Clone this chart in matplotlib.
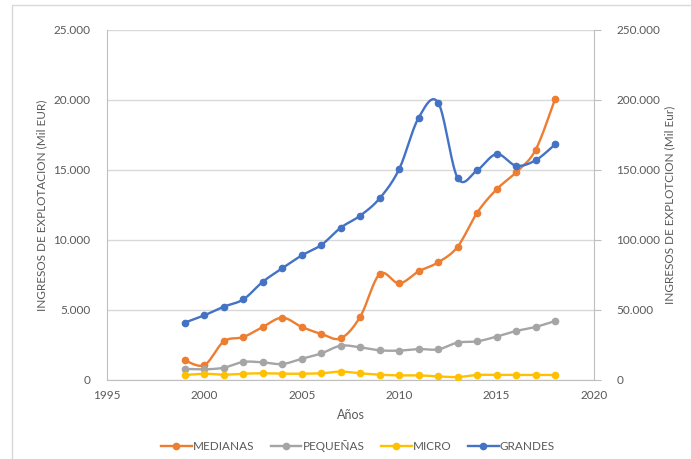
import matplotlib as mpl
mpl.use('Agg')

import numpy as np
import matplotlib.pyplot as plt
from matplotlib.lines import Line2D
from matplotlib.patches import Rectangle

years = list(range(1999, 2019))
medianas = [1400, 1070, 2760, 3070, 3790, 4450, 3790, 3290, 2980, 4520,
            7570, 6900, 7760, 8400, 9520, 11950, 13620, 14830, 16430, 20070]
pequenas = [790, 760, 880, 1290, 1260, 1140, 1520, 1900, 2450, 2330,
            2120, 2100, 2210, 2190, 2670, 2760, 3100, 3500, 3790, 4210]
micro = [360, 450, 380, 450, 480, 450, 450, 480, 600, 480,
         380, 330, 330, 260, 210, 360, 360, 360, 360, 360]
# GRANDES va en el eje secundario
grandes = [41000, 46200, 52400, 57600, 70200, 79800, 89000, 96400, 108800, 117400,
           129800, 150700, 187400, 198100, 144300, 149800, 161400, 153100, 156900, 168300]

left_ticks = [0, 5000, 10000, 15000, 20000, 25000]
right_ticks = [0, 50000, 100000, 150000, 200000, 250000]
x_ticks = [1995, 2000, 2005, 2010, 2015, 2020]


def smooth(x, y, n=20):
    # curva suavizada tipo Excel (Catmull-Rom / Bezier)
    x = np.asarray(x, float)
    y = np.asarray(y, float)
    xs, ys = [], []
    for i in range(len(x) - 1):
        p0 = np.array([x[max(i - 1, 0)], y[max(i - 1, 0)]])
        p1 = np.array([x[i], y[i]])
        p2 = np.array([x[i + 1], y[i + 1]])
        p3 = np.array([x[min(i + 2, len(x) - 1)], y[min(i + 2, len(x) - 1)]])
        c1 = p1 + (p2 - p0) / 6.0
        c2 = p2 - (p3 - p1) / 6.0
        t = np.linspace(0, 1, n)[:, None]
        pts = ((1 - t) ** 3) * p1 + 3 * ((1 - t) ** 2) * t * c1 + 3 * (1 - t) * t ** 2 * c2 + t ** 3 * p2
        xs.extend(pts[:, 0])
        ys.extend(pts[:, 1])
    return xs, ys


def miles(v):
    return "{:,}".format(int(v)).replace(",", ".")


plt.rcParams['font.family'] = ['Lato', 'DejaVu Sans']
txt = '#595959'
grid_c = '#D9D9D9'

fig = plt.figure(figsize=(6.91, 4.59), dpi=100)
fig.patches.append(Rectangle((12 / 691, -0.01), 1.0, 1 - 5 / 459 + 0.01, transform=fig.transFigure,
                             fill=False, edgecolor='#D9D9D9', linewidth=1))
ax = fig.add_axes([107 / 691, 1 - 380 / 459, (594 - 107) / 691, 350 / 459])
ax2 = ax.twinx()

series = [(medianas, '#ED7D31', 'MEDIANAS'),
          (pequenas, '#A5A5A5', 'PEQUEÑAS'),
          (micro, '#FFC000', 'MICRO')]
for vals, col, lab in series:
    sx, sy = smooth(years, vals)
    ax.plot(sx, sy, color=col, lw=1.7, zorder=3)
    ax.plot(years, vals, 'o', color=col, ms=4.5, zorder=4)

sx, sy = smooth(years, grandes)
ax2.plot(sx, sy, color='#4472C4', lw=1.7, zorder=3)
ax2.plot(years, grandes, 'o', color='#4472C4', ms=4.5, zorder=4)

ax.set_xlim(1995, 2020)
ax.set_ylim(0, 25000)
ax2.set_ylim(0, 250000)
ax.set_xticks(x_ticks)
ax.set_yticks(left_ticks)
ax.set_yticklabels([miles(v) for v in left_ticks])
ax2.set_yticks(right_ticks)
ax2.set_yticklabels([miles(v) for v in right_ticks])

ax.grid(axis='y', color=grid_c, lw=1)
ax.set_axisbelow(True)
for a in (ax, ax2):
    a.spines['top'].set_visible(False)
    for s in ('left', 'right', 'bottom'):
        a.spines[s].set_color('#BFBFBF')
ax.spines['right'].set_visible(False)
ax2.spines['left'].set_visible(False)
ax2.spines['bottom'].set_visible(False)

ax.tick_params(axis='y', length=0, labelsize=8.5, labelcolor=txt, pad=12)
ax.tick_params(axis='x', length=0, labelsize=8.5, labelcolor=txt, pad=7)
ax2.tick_params(axis='y', length=5, color='#BFBFBF', labelsize=8.5, labelcolor=txt, pad=11)

ax.set_xlabel('Años', fontsize=9, color=txt, labelpad=6)
ax.set_ylabel('INGRESOS DE EXPLOTACION (Mil EUR)', fontsize=8.5, color=txt, labelpad=4)
ax2.set_ylabel('INGRESOS DE EXPLOTCION (Mil Eur)', fontsize=8.5, color=txt, labelpad=3)

handles = [Line2D([], [], color=c, lw=1.7, marker='o', ms=4.5) for c in
           ['#ED7D31', '#A5A5A5', '#FFC000', '#4472C4']]
fig.legend(handles, ['MEDIANAS', 'PEQUEÑAS', 'MICRO', 'GRANDES'], ncol=4, frameon=False,
           loc='center', bbox_to_anchor=(358 / 691, 1 - 446 / 459), fontsize=8.5,
           labelcolor=txt, handlelength=2.6, handletextpad=0.1, columnspacing=1.4)

plt.savefig('out.png', dpi=100)
